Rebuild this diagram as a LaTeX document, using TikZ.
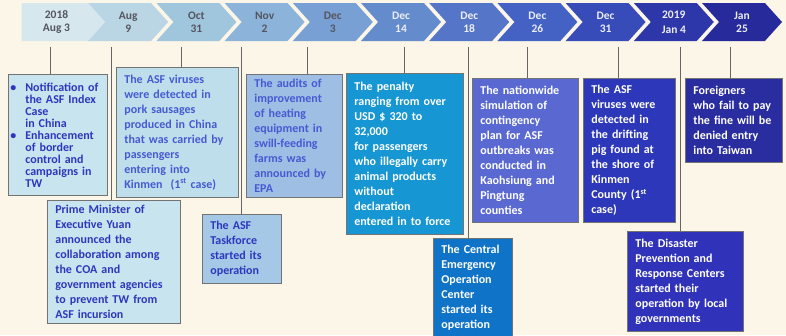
\documentclass[tikz,border=0pt]{standalone}
\usepackage{fontspec}
\setmainfont{Carlito}
\usetikzlibrary{shapes.symbols,positioning}
\definecolor{bgcream}{RGB}{251,246,231}
\definecolor{chA}{RGB}{214,232,238}
\definecolor{chB}{RGB}{186,214,228}
\definecolor{chC}{RGB}{160,198,222}
\definecolor{chD}{RGB}{140,180,218}
\definecolor{chE}{RGB}{120,160,212}
\definecolor{chF}{RGB}{100,140,205}
\definecolor{chG}{RGB}{85,118,200}
\definecolor{chH}{RGB}{68,98,196}
\definecolor{chI}{RGB}{55,75,185}
\definecolor{chJ}{RGB}{45,55,170}
\definecolor{chK}{RGB}{38,42,155}
\definecolor{chtext}{RGB}{85,85,95}
\definecolor{paletext}{RGB}{235,238,248}
\definecolor{lightbox}{RGB}{200,228,238}
\definecolor{sausbox}{RGB}{190,222,236}
\definecolor{auditbox}{RGB}{158,190,228}
\definecolor{taskbox}{RGB}{165,200,230}
\definecolor{penaltybox}{RGB}{22,150,210}
\definecolor{ceocbox}{RGB}{15,115,200}
\definecolor{simbox}{RGB}{90,105,210}
\definecolor{pigbox}{RGB}{45,55,185}
\definecolor{dprcbox}{RGB}{48,50,185}
\definecolor{foreignbox}{RGB}{42,45,160}
\definecolor{darkblue}{RGB}{45,55,190}
\definecolor{midblue}{RGB}{70,90,210}

\begin{document}
\begin{tikzpicture}[x=1pt, y=-1pt,
  chev/.style={signal, signal to=east, signal from=west, signal pointer angle=96,
    minimum height=38pt, minimum width=80pt, inner sep=0pt, align=center,
    font=\bfseries\fontsize{11.5}{13}\selectfont},
  evbox/.style={draw=black!55, line width=0.7pt, anchor=north west, align=left,
    inner xsep=8pt, inner ysep=2pt, font=\bfseries\fontsize{12}{15}\selectfont},
  tick/.style={draw=black!60, line width=0.8pt}]
\useasboundingbox (0,0) rectangle (786,335);
\fill[bgcream] (0,0) rectangle (786,335);

% timeline
\node[chev, fill=chA, text=chtext, signal from=nowhere, minimum width=87pt] (c1) at (56.5,22) {2018\\Aug 3};
\node[chev, fill=chB, text=chtext] (c2) at (128.2,22) {Aug\\9};
\node[chev, fill=chC, text=chtext] (c3) at (196.4,22) {Oct\\31};
\node[chev, fill=chD, text=chtext] (c4) at (264.6,22) {Nov\\2};
\node[chev, fill=chE, text=chtext] (c5) at (332.8,22) {Dec\\3};
\node[chev, fill=chF, text=paletext] (c6) at (401,22) {Dec\\14};
\node[chev, fill=chG, text=paletext] (c7) at (469.2,22) {Dec\\18};
\node[chev, fill=chH, text=paletext] (c8) at (537.4,22) {Dec\\26};
\node[chev, fill=chI, text=paletext] (c9) at (605.6,22) {Dec\\31};
\node[chev, fill=chJ, text=paletext] (c10) at (673.8,22) {2019\\[2pt]Jan 4};
\node[chev, fill=chK, text=paletext] (c11) at (742,22) {Jan\\25};

% events
\node[evbox, fill=lightbox, text=darkblue, inner xsep=2pt, text width=95pt, minimum height=121pt,
  font=\bfseries\fontsize{12}{12}\selectfont] (notif) at (8,74)
  {\makebox[15pt][l]{\textbullet}Notification of\\ \hspace*{15pt}the ASF Index\\ \hspace*{15pt}Case\\
   \hspace*{15pt}in China\\ \makebox[15pt][l]{\textbullet}Enhancement\\ \hspace*{15pt}of border\\
   \hspace*{15pt}control and\\ \hspace*{15pt}campaigns in\\ \hspace*{15pt}TW};
\node[evbox, fill=sausbox, text=midblue, text width=106pt, minimum height=130pt] (saus) at (116,67)
  {The ASF viruses\\ were detected in\\ pork sausages\\ produced in China\\ that was carried by\\
   passengers\\ entering into\\ Kinmen\ \ (1\textsuperscript{st} case)};
\node[evbox, fill=auditbox, text=midblue, text width=80pt, minimum height=123pt] (audit) at (246,74)
  {The audits of\\ improvement\\ of heating\\ equipment in\\ swill-feeding\\ farms was\\ announced by\\ EPA};
\node[evbox, fill=penaltybox, text=white, text width=101pt, minimum height=161pt] (penalty) at (346,73)
  {The penalty\\ ranging from over\\ USD \$ 320 to\\ 32,000\\ for passengers\\ who illegally carry\\
   animal products\\ without\\ declaration\\ entered in to force};
\node[evbox, fill=simbox, text=white, text width=90pt, minimum height=144pt] (sim) at (472,78)
  {The nationwide\\ simulation of\\ contingency\\ plan for ASF\\ outbreaks was\\ conducted in\\
   Kaohsiung and\\ Pingtung\\ counties};
\node[evbox, fill=pigbox, text=white, text width=76pt, minimum height=144pt] (pig) at (583,78)
  {The ASF\\ viruses were\\ detected in\\ the drifting\\ pig found at\\ the shore of\\ Kinmen\\
   County (1\textsuperscript{st}\\ case)};
\node[evbox, fill=foreignbox, text=white, text width=81pt, minimum height=84pt] (foreign) at (685,78)
  {Foreigners\\ who fail to pay\\ the fine will be\\ denied entry\\ into Taiwan};
\node[evbox, fill=lightbox, text=darkblue, text width=117pt, minimum height=123pt] (pm) at (47,200)
  {Prime Minister of\\ Executive Yuan\\ announced the\\ collaboration among\\ the COA and\\
   government agencies\\ to prevent TW from\\ ASF incursion};
\node[evbox, fill=taskbox, text=darkblue, text width=63pt, minimum height=69pt] (task) at (202,214)
  {The ASF\\ Taskforce\\ started its\\ operation};
\node[evbox, fill=ceocbox, text=white, text width=63pt, minimum height=99pt] (ceoc) at (433,238)
  {The Central\\ Emergency\\ Operation\\ Center\\ started its\\ operation};
\node[evbox, fill=dprcbox, text=white, text width=100pt, minimum height=100pt] (dprc) at (627,231)
  {The Disaster\\ Prevention and\\ Response Centers\\ started their\\ operation by local\\ governments};

% ticks from the timeline
\draw[tick] ([xshift=-7pt]notif.north) -- ([xshift=-7pt,yshift=-6pt]notif.north |- c1.south);
\draw[tick] ([xshift=-2pt]pm.north) -- ([xshift=-2pt,yshift=-6pt]pm.north |- c2.south);
\draw[tick] ([xshift=4pt]saus.north) -- ([xshift=4pt,yshift=-6pt]saus.north |- c3.south);
\draw[tick] (task.north) -- ([yshift=-6pt]task.north |- c4.south);
\draw[tick] ([xshift=13pt]audit.north) -- ([xshift=13pt,yshift=-6pt]audit.north |- c5.south);
\draw[tick] (penalty.north) -- ([yshift=-6pt]penalty.north |- c6.south);
\draw[tick] ([xshift=-4pt]ceoc.north) -- ([xshift=-4pt,yshift=-6pt]ceoc.north |- c7.south);
\draw[tick] ([xshift=2pt]sim.north) -- ([xshift=2pt,yshift=-6pt]sim.north |- c8.south);
\draw[tick] ([xshift=-11pt]pig.north) -- ([xshift=-11pt,yshift=-6pt]pig.north |- c9.south);
\draw[tick] ([xshift=-5pt]dprc.north) -- ([xshift=-5pt,yshift=-6pt]dprc.north |- c10.south);
\draw[tick] ([xshift=-3pt]foreign.north) -- ([xshift=-3pt,yshift=-6pt]foreign.north |- c11.south);
\end{tikzpicture}
\end{document}
